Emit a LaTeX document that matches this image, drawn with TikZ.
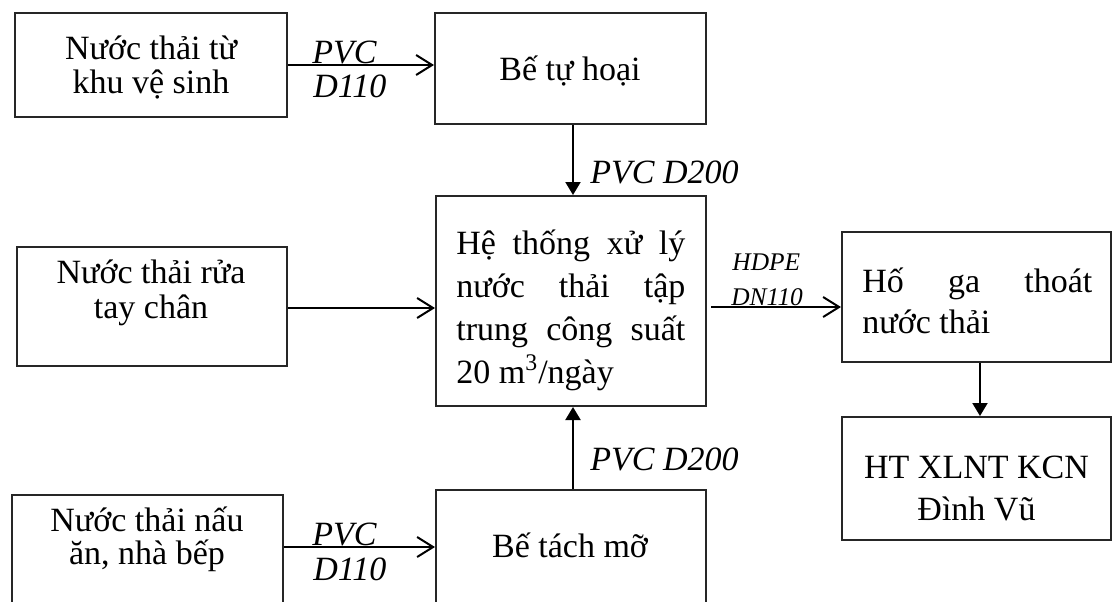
\documentclass[tikz,border=0pt]{standalone}
\usepackage{fontspec}
\setmainfont{Liberation Serif}
\usetikzlibrary{arrows.meta}
% text block whose baseline is the baseline of its first line
\newcommand{\blockc}[3]{\parbox[t]{#1}{\fontsize{17}{#2}\selectfont\centering #3}}
\newcommand{\blockj}[3]{\parbox[t]{#1}{\fontsize{17}{#2}\selectfont\raggedright #3}}
\begin{document}
\begin{tikzpicture}[x=0.5pt,y=-0.5pt,
  box/.style={draw=black!85, line width=1pt, inner sep=0pt},
  txt/.style={anchor=base, inner sep=0pt, font=\fontsize{17}{20}\selectfont},
  txtl/.style={anchor=base west, inner sep=0pt, font=\fontsize{17}{20}\selectfont},
  pipe/.style={anchor=base west, inner sep=0pt, font=\fontsize{17}{20}\selectfont\itshape},
  pipesm/.style={anchor=base west, inner sep=0pt, font=\fontsize{12.7}{15}\selectfont\itshape},
  flow/.style={draw=black, line width=1pt, -{Straight Barb[length=8pt,width=10pt,line width=1pt]}},
  feed/.style={draw=black, line width=1pt, -{Triangle[length=6.5pt,width=7.5pt]}}]
  \useasboundingbox (0,0) rectangle (1113,601);
  \clip (0,0) rectangle (1113,601);

  % process boxes
  \node[box, minimum width=136pt, minimum height=52pt]   (A) at (151,65) {};
  \node[box, minimum width=135.5pt, minimum height=55.5pt] (B) at (570.5,68.5) {};
  \node[box, minimum width=135pt, minimum height=105pt]  (C) at (571,301) {};
  \node[box, minimum width=135pt, minimum height=59.5pt] (D) at (152,306.5) {};
  \node[box, minimum width=134.5pt, minimum height=65pt] (E) at (976.5,297) {};
  \node[box, minimum width=134.5pt, minimum height=61.5pt] (F) at (976.5,478.5) {};
  \node[box, minimum width=135.5pt, minimum height=72.5pt] (G) at (147.5,567.5) {};
  \node[box, minimum width=135pt, minimum height=75pt]   (H) at (571,565) {};

  % box texts
  \node[txt] (a1) at (151,59) {\blockc{130pt}{17pt}{Nước thải từ\\khu vệ sinh}};
  \node[txt] (b1) at (570,80) {Bế tự hoại};
  \node[txtl] (c1) at (456,254) {\blockj{114.5pt}{21.5pt}{%
      \makebox[114.5pt][s]{Hệ thống xử lý}\\
      \makebox[114.5pt][s]{nước thải tập}\\
      \makebox[114.5pt][s]{trung công suất}\\
      20 m\textsuperscript{3}/ngày}};
  \node[txt] (d1) at (151,283) {\blockc{130pt}{17.5pt}{Nước thải rửa\\tay chân}};
  \node[txtl] (e1) at (862,292) {\blockj{115pt}{20.5pt}{%
      \makebox[115pt][s]{Hố ga thoát}\\
      nước thải}};
  \node[txt] (f1) at (976.5,478) {\blockc{130pt}{21pt}{HT XLNT KCN\\Đình Vũ}};
  \node[txt] (g1) at (147,531) {\blockc{130pt}{16.5pt}{Nước thải nấu\\ăn, nhà bếp}};
  \node[txt] (h1) at (570,557) {Bế tách mỡ};

  % guide coordinates for the connectors
  \coordinate (yD) at (0,308);
  \coordinate (yC) at (0,307);
  \coordinate (yG) at (0,547);
  \coordinate (xC) at (573,0);
  \coordinate (xE) at (980,0);
  \coordinate (xCE) at (711,0);

  % connectors
  \draw[flow] (A.east) -- (A.east -| B.west);
  \draw[flow] (G.east |- yG) -- (H.west |- yG);
  \draw[flow] (D.east |- yD) -- (C.west |- yD);
  \draw[flow] (xCE |- yC) -- (E.west |- yC);
  \draw[feed] (B.south -| xC) -- (C.north -| xC);
  \draw[feed] (H.north -| xC) -- (C.south -| xC);
  \draw[feed] (E.south -| xE) -- (F.north -| xE);

  % pipe labels
  \node[pipe] (p1) at (312,63) {PVC};
  \node[pipe] (p2) at (313,97) {D110};
  \node[pipe] (p3) at (590,183) {PVC D200};
  \node[pipe] (p4) at (590,470) {PVC D200};
  \node[pipe] (p5) at (312,545) {PVC};
  \node[pipe] (p6) at (313,580) {D110};
  \node[pipesm] (p7) at (732,270) {HDPE};
  \node[pipesm] (p8) at (731,305) {DN110};
\end{tikzpicture}
\end{document}
